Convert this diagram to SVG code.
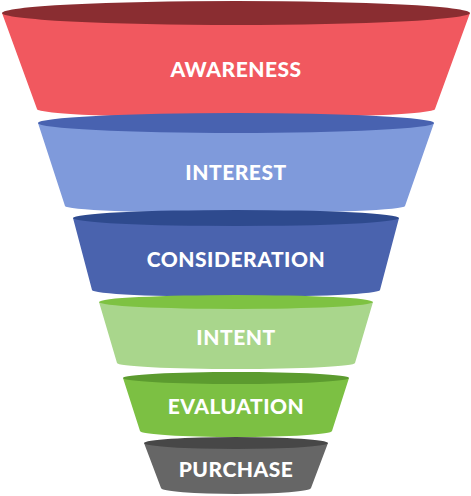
<svg xmlns="http://www.w3.org/2000/svg" width="471" height="496" viewBox="0 0 471 496">
<style>
.lbl{font-family:"Lato","Open Sans","Liberation Sans",sans-serif;font-weight:900;font-size:21px;letter-spacing:0.5px;fill:#ffffff;text-anchor:middle}
</style>
<rect width="471" height="496" fill="#ffffff"/>
<g id="awareness">
<path d="M2,13 L37,109 A199,9 0 0 0 435,109 L470,13 Z" fill="#F1585F"/>
<ellipse cx="236" cy="13" rx="234" ry="12" fill="#8A2D31"/>
<text class="lbl" x="236" y="77">AWARENESS</text>
</g>
<g id="interest">
<path d="M38,123 L65,206 A170,7 0 0 0 405,206 L434,123 Z" fill="#7F9ADB"/>
<ellipse cx="236" cy="123" rx="198" ry="10" fill="#4862B0"/>
<text class="lbl" x="236" y="180">INTEREST</text>
</g>
<g id="consideration">
<path d="M73,218 L92,290 A144,7 0 0 0 380,290 L399,218 Z" fill="#4A63AE"/>
<ellipse cx="236" cy="218" rx="163" ry="8" fill="#2E4A8E"/>
<text class="lbl" x="236" y="267">CONSIDERATION</text>
</g>
<g id="intent">
<path d="M99,302 L117,363 A119,6 0 0 0 355,363 L373,302 Z" fill="#A9D68C"/>
<ellipse cx="236" cy="302" rx="137" ry="7" fill="#7EC242"/>
<text class="lbl" x="236" y="345">INTENT</text>
</g>
<g id="evaluation">
<path d="M123,378 L140,431 A96,6 0 0 0 332,431 L349,378 Z" fill="#7CC043"/>
<ellipse cx="236" cy="378" rx="113" ry="6" fill="#5C9B2F"/>
<text class="lbl" x="236" y="414">EVALUATION</text>
</g>
<g id="purchase">
<path d="M144,443 L161,488 A75,6 0 0 0 311,488 L328,443 Z" fill="#666666"/>
<ellipse cx="236" cy="443" rx="92" ry="6" fill="#474747"/>
<text class="lbl" x="236" y="477">PURCHASE</text>
</g>
<g id="connectors"/>
</svg>
